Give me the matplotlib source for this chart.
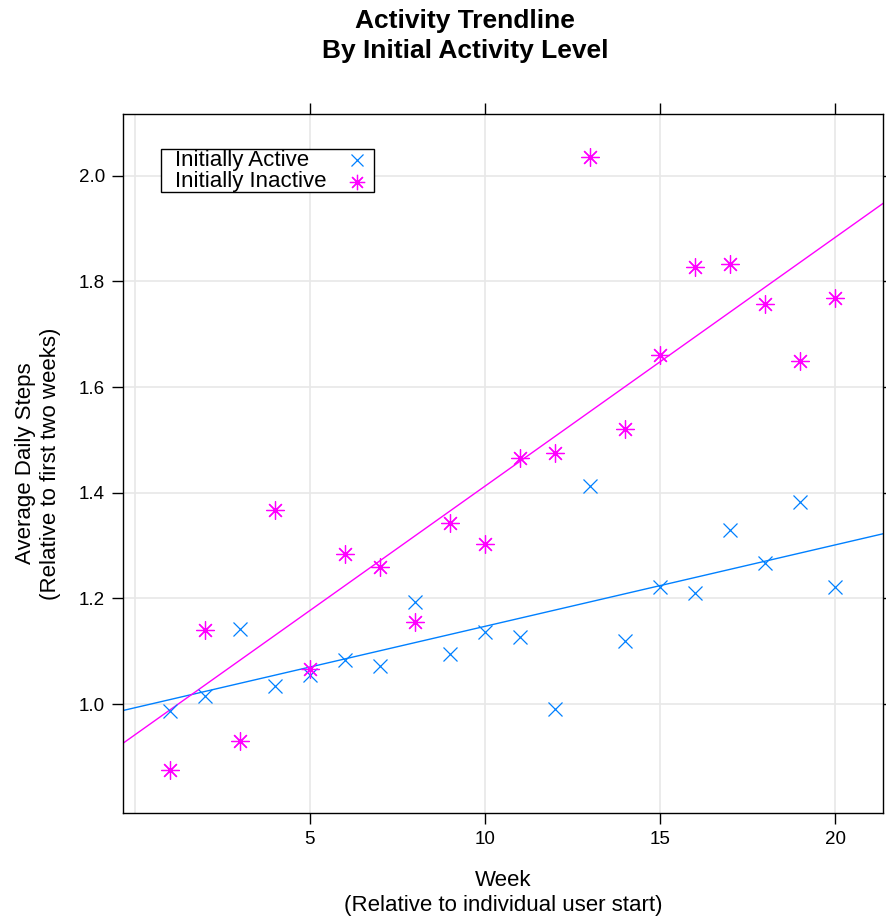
import numpy as np
import matplotlib
matplotlib.use("Agg")
import matplotlib.pyplot as plt
from matplotlib.patches import Rectangle

plt.rcParams['font.family'] = ['Liberation Sans', 'DejaVu Sans']

weeks = list(range(1, 21))
active = [0.987, 1.015, 1.143, 1.035, 1.055, 1.083, 1.072, 1.193, 1.095, 1.136,
          1.128, 0.990, 1.413, 1.120, 1.222, 1.211, 1.330, 1.268, 1.383, 1.221]
inactive = [0.876, 1.141, 0.931, 1.368, 1.067, 1.284, 1.260, 1.155, 1.343, 1.303,
            1.466, 1.476, 2.035, 1.521, 1.660, 1.828, 1.833, 1.758, 1.650, 1.768]
labels = ["Initially Active", "Initially Inactive"]
xticks = [5, 10, 15, 20]
yticks = [1.0, 1.2, 1.4, 1.6, 1.8, 2.0]

blue = "#0080ff"
magenta = "#ff00ff"

fig = plt.figure(figsize=(8.86, 9.18), dpi=100)
ax = fig.add_axes([123/886, 1-813/918, 760/886, 699/918])

xlim = (-0.34, 21.37)
ylim = (0.794, 2.117)
ax.set_xlim(*xlim)
ax.set_ylim(*ylim)

# grid
for gx in [0] + xticks:
    ax.axvline(gx, color="#e8e8e8", lw=1.2, zorder=0)
for gy in yticks:
    ax.axhline(gy, color="#e8e8e8", lw=1.2, zorder=0)

x = np.array(weeks)
xs = np.array(xlim)
styles = [(active, blue, 'x', 9.5), (inactive, magenta, (8, 2, 0), 13)]
for vals, col, mk, ms in styles:
    v = np.array(vals)
    ax.plot(x, v, linestyle='none', marker=mk, color=col, ms=ms, mew=0.9, zorder=3)
    b, a = np.polyfit(x, v, 1)
    ax.plot(xs, a + b * xs, color=col, lw=1.0, zorder=2)

# legend (lattice style: text left, symbol right)
ax.add_patch(Rectangle((0.05, 0.888), 0.280, 0.062, transform=ax.transAxes,
                       facecolor='white', edgecolor='black', lw=1, zorder=5))
row_y = [0.934, 0.903]
for (vals, col, mk, ms), lab, ry in zip(styles, labels, row_y):
    ax.text(0.0684, ry, lab, transform=ax.transAxes, ha='left', va='center',
            fontsize=16, zorder=6)
    ax.plot([0.308], [ry], transform=ax.transAxes, linestyle='none', marker=mk,
            color=col, ms=ms * 0.85, mew=0.9, zorder=6, clip_on=False)

ax.set_xticks(xticks)
ax.set_yticks(yticks)
ax.set_yticklabels([f"{t:.1f}" for t in yticks])
ax.tick_params(direction='out', length=8, width=1, labelsize=13.5, color='black',
               top=True, right=True, labeltop=False, labelright=False, pad=5)
for s in ax.spines.values():
    s.set_linewidth(1)
    s.set_color('black')

ax.set_xlabel("Week\n(Relative to individual user start)", fontsize=16, labelpad=16, linespacing=1.25)
ax.set_ylabel("Average Daily Steps\n(Relative to first two weeks)", fontsize=16, labelpad=13, linespacing=1.2)

fig.text(465/886, 1-9/918, "Activity Trendline\nBy Initial Activity Level", ha='center', va='top',
         fontsize=19, fontweight='bold', linespacing=1.3)

fig.savefig("out.png", dpi=100)
